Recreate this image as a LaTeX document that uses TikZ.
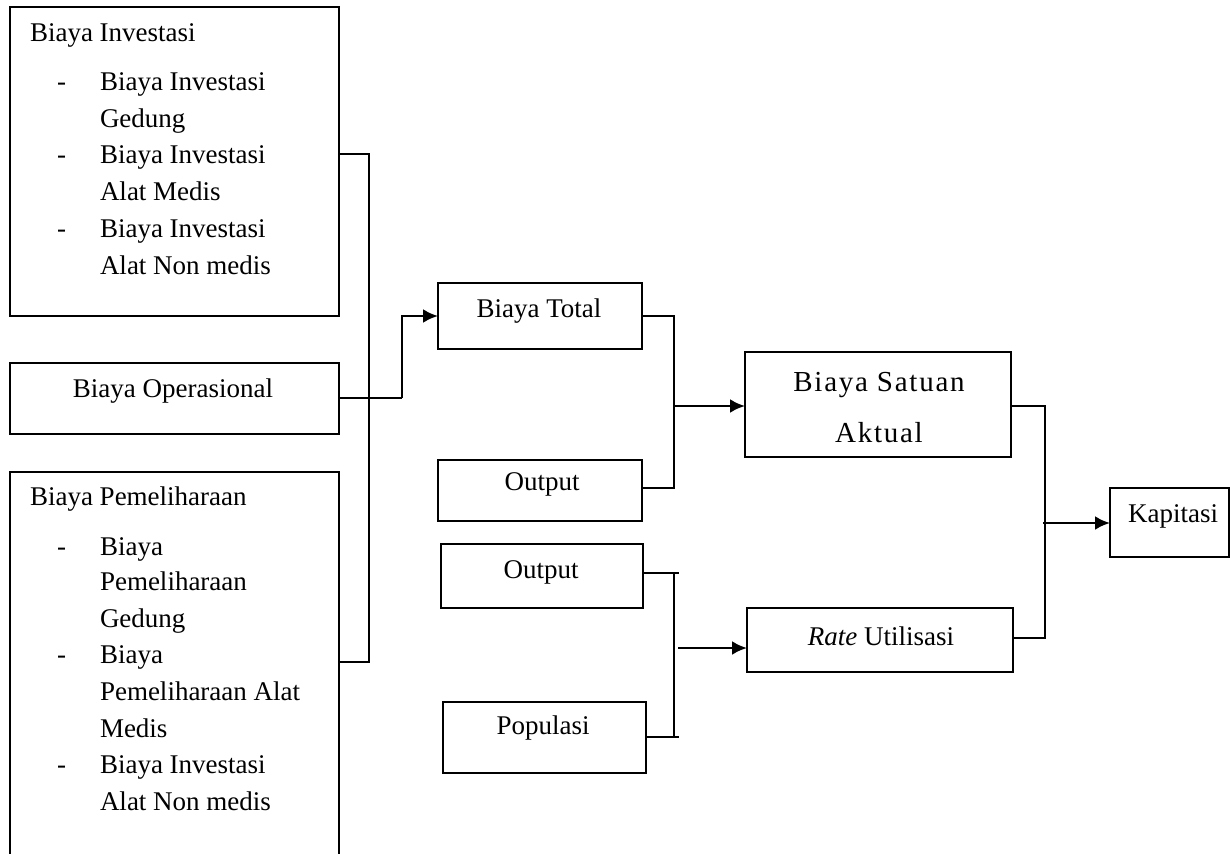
\documentclass[tikz,border=0pt]{standalone}
\usepackage{fontspec}
\setmainfont{Liberation Serif}
\usetikzlibrary{arrows.meta}
\begin{document}
\begin{tikzpicture}[x=1pt,y=-1pt,
  box/.style={draw=black,line width=2.6pt,inner sep=0pt,outer sep=0pt,fill=none},
  txt/.style={inner sep=0pt,outer sep=0pt,anchor=base,font=\fontsize{27}{37}\selectfont},
  ltxt/.style={txt,anchor=base west},
  conn/.style={line width=2.6pt,line join=miter},
  arr/.style={conn,-{Latex[length=15pt,width=14pt]}}]
\useasboundingbox (0,0) rectangle (1230,853);
% boxes
\node[box,minimum width=329pt,minimum height=309pt] (b1) at (174.5,161.5) {};
\node[box,minimum width=329pt,minimum height=71pt] (b2) at (174.5,398.5) {};
\node[box,minimum width=329pt,minimum height=390pt] (b3) at (174.5,667) {};
\node[box,minimum width=204pt,minimum height=66pt] (bt) at (540,316) {};
\node[box,minimum width=204pt,minimum height=61pt] (o1) at (540,490.5) {};
\node[box,minimum width=266pt,minimum height=105pt] (bs) at (878,404.5) {};
\node[box,minimum width=202pt,minimum height=64pt] (o2) at (542,576) {};
\node[box,minimum width=203pt,minimum height=71pt] (pop) at (544.5,737.5) {};
\node[box,minimum width=266pt,minimum height=64pt] (ru) at (880,640) {};
\node[box,minimum width=119pt,minimum height=69pt] (kap) at (1169.5,522.5) {};
% texts box 1
\node[ltxt] (t1h) at (30,42) {Biaya Investasi};
\node[ltxt] (t1d1) at (57,91) {-};
\node[ltxt] (t1a) at (100,91) {Biaya Investasi};
\node[ltxt] (t1b) at (100,127.5) {Gedung};
\node[ltxt] (t1d2) at (57,164) {-};
\node[ltxt] (t1c) at (100,164) {Biaya Investasi};
\node[ltxt] (t1d) at (100,200.5) {Alat Medis};
\node[ltxt] (t1d3) at (57,237) {-};
\node[ltxt] (t1e) at (100,237) {Biaya Investasi};
\node[ltxt] (t1f) at (100,274) {Alat Non medis};
% box 2
\node[txt] (t2) at (173,397) {Biaya Operasional};
% box 3
\node[ltxt] (t3h) at (30,505) {Biaya Pemeliharaan};
\node[ltxt] (t3d1) at (57,555) {-};
\node[ltxt] (t3a) at (100,555) {Biaya};
\node[ltxt] (t3b) at (100,590) {Pemeliharaan};
\node[ltxt] (t3c) at (100,627) {Gedung};
\node[ltxt] (t3d2) at (57,663) {-};
\node[ltxt] (t3e) at (100,663) {Biaya};
\node[ltxt] (t3f) at (100,700) {Pemeliharaan Alat};
\node[ltxt] (t3g) at (100,737) {Medis};
\node[ltxt] (t3d3) at (57,773) {-};
\node[ltxt] (t3h2) at (100,773) {Biaya Investasi};
\node[ltxt] (t3i) at (100,810) {Alat Non medis};
% others
\node[txt] (tbt) at (539,317) {Biaya Total};
\node[txt] (to1) at (542,490) {Output};
\node[txt] (to2) at (541,578) {Output};
\node[txt] (tpop) at (543,734) {Populasi};
\node[txt,font=\fontsize{29}{37}\selectfont] (tbs1) at (879,391) {\addfontfeature{LetterSpace=6}Biaya Satuan};
\node[txt,font=\fontsize{29}{37}\selectfont] (tbs2) at (879,442) {\addfontfeature{LetterSpace=6}Aktual};
\node[txt] (tru) at (881,645) {\textit{Rate} Utilisasi};
\node[ltxt] (tkap) at (1128,522) {Kapitasi};
% junction coordinates
\coordinate (j1) at (369,154);
\coordinate (j3) at (369,662);
\coordinate (j2) at (402,398);
\coordinate (k1) at (674,316);
\coordinate (k2) at (674,488);
\coordinate (k3) at (674,406);
\coordinate (m1) at (674,573);
\coordinate (m2) at (674,737);
\coordinate (m3) at (678,648);
\coordinate (n1) at (1045,406);
\coordinate (n2) at (1045,638);
\coordinate (n3) at (1043,523);
% connectors
\draw[conn] (b1.east |- j1) -- (j1) -- (j3) -- (b3.east |- j3);
\draw[conn] (b2.east |- j2) -- (j2);
\draw[arr] (j2) |- (bt.west);
\draw[conn] (bt.east |- k1) -- (k1) -- (k2) -- (o1.east |- k2);
\draw[arr] (k3) -- (bs.west |- k3);
\draw[conn] (o2.east |- m1) -- ([xshift=5pt]m1);
\draw[conn] (m1) -- (m2);
\draw[conn] (pop.east |- m2) -- ([xshift=5pt]m2);
\draw[arr] (m3) -- (ru.west |- m3);
\draw[conn] (bs.east |- n1) -- (n1) -- (n2) -- (ru.east |- n2);
\draw[arr] (n3) -- (kap.west |- n3);
\end{tikzpicture}
\end{document}
